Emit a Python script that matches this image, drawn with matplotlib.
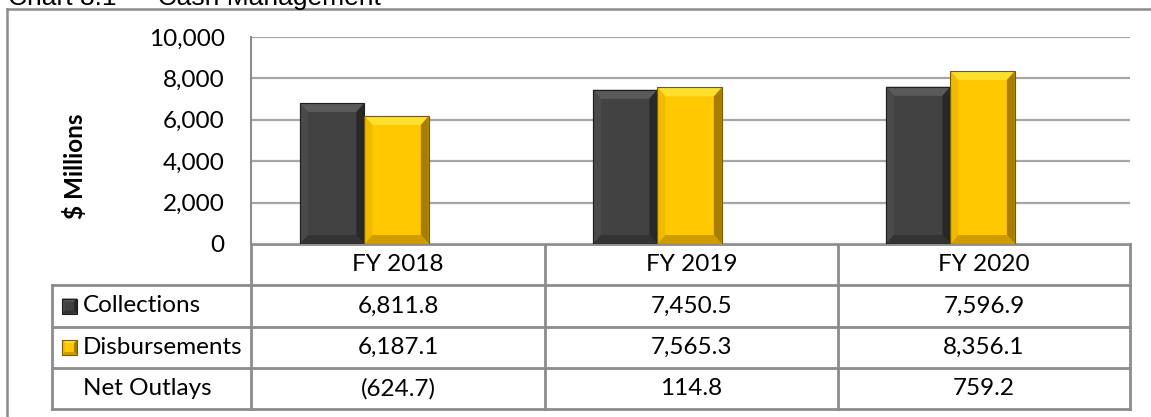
import matplotlib.pyplot as plt
from matplotlib.patches import Polygon, Rectangle
from matplotlib.lines import Line2D

W, H = 1151, 417

years = ['FY 2018', 'FY 2019', 'FY 2020']
collections = [6811.8, 7450.5, 7596.9]
disbursements = [6187.1, 7565.3, 8356.1]
net_outlays = [-624.7, 114.8, 759.2]
row_labels = ['Collections', 'Disbursements', 'Net Outlays']
y_ticks = [0, 2000, 4000, 6000, 8000, 10000]

FONT = 'Lato'
FS = 17.5
GRID = '#a6a6a6'
LINE = '#8c8c8c'

# face, top, left, right, bottom, edge
DARK = ['#424242', '#5a5a5a', '#4a4a4a', '#282828', '#333333', '#1e1e1e']
GOLD = ['#ffc800', '#ffdf2e', '#f0ba00', '#a87e00', '#cf9c00', '#7a5c00']


def bevel_box(ax, x0, x1, y0, y1, bx, by, pal):
    # outer face plus four sloped facets, drawn like an Excel bevel
    xi0, xi1, yi0, yi1 = x0 + bx, x1 - bx, y0 + by, y1 - by
    ax.add_patch(Rectangle((x0, y0), x1 - x0, y1 - y0, facecolor=pal[0],
                           edgecolor='none', zorder=3))
    facets = [
        ([(x0, y1), (x1, y1), (xi1, yi1), (xi0, yi1)], pal[1]),
        ([(x0, y0), (x0, y1), (xi0, yi1), (xi0, yi0)], pal[2]),
        ([(x1, y0), (x1, y1), (xi1, yi1), (xi1, yi0)], pal[3]),
        ([(x0, y0), (x1, y0), (xi1, yi0), (xi0, yi0)], pal[4]),
    ]
    for pts, c in facets:
        ax.add_patch(Polygon(pts, closed=True, facecolor=c, edgecolor='none', zorder=4))
    ax.add_patch(Rectangle((x0, y0), x1 - x0, y1 - y0, facecolor='none',
                           edgecolor=pal[5], lw=0.8, zorder=5))


fig = plt.figure(figsize=(W / 100, H / 100), dpi=100)

# plot area in pixel terms
px_l, px_r, px_t, px_b = 251, 1130, 37, 244
ax = fig.add_axes([px_l / W, (H - px_b) / H, (px_r - px_l) / W, (px_b - px_t) / H])
ax.set_xlim(0, 3)
ax.set_ylim(0, 10000)
ax.set_yticks(y_ticks)
ax.set_yticklabels(['{:,}'.format(v) for v in y_ticks], fontfamily=FONT, fontsize=FS)
ax.tick_params(axis='y', length=0, pad=19)
ax.set_xticks([])
for s in ['top', 'right', 'bottom']:
    ax.spines[s].set_visible(False)
ax.spines['left'].set_color(LINE)
ax.spines['left'].set_linewidth(1.5)
ax.yaxis.grid(True, color=GRID, lw=1.6)
ax.set_axisbelow(True)

bar_w = 0.22
split = 0.387
bx = 8 / ((px_r - px_l) / 3)
by = 9 * 10000 / (px_b - px_t)
for i in range(len(years)):
    c = i + split
    bars = ax.bar([c - bar_w / 2, c + bar_w / 2], [collections[i], disbursements[i]],
                  width=bar_w, color='none')
    for b, pal in zip(bars, [DARK, GOLD]):
        bevel_box(ax, b.get_x(), b.get_x() + b.get_width(), 0, b.get_height(), bx, by, pal)

# overlay for table, frame and labels, in pixel coords (y measured from top)
ov = fig.add_axes([0, 0, 1, 1])
ov.set_xlim(0, W)
ov.set_ylim(H, 0)
ov.axis('off')
ov.set_zorder(-1)


def hline(y, x0, x1, c=LINE, lw=1.6):
    ov.add_line(Line2D([x0, x1], [y, y], color=c, lw=lw))


def vline(x, y0, y1, c=LINE, lw=1.6):
    ov.add_line(Line2D([x, x], [y0, y1], color=c, lw=lw))


# outer frame (only left and top fall inside the picture)
hline(8.5, 7, W, lw=1.8)
vline(7, 8.5, H, lw=1.8)

cols = [52, 251, 545, 838, 1130]
rows = [244, 285, 327, 368, 409]
hline(rows[0], cols[1], cols[-1], lw=2)
for y in rows[1:]:
    hline(y, cols[0], cols[-1], lw=2)
vline(cols[0], rows[1], rows[-1], lw=2)
for x in cols[1:]:
    vline(x, rows[0], rows[-1], lw=2)

for j, yr in enumerate(years):
    xc = (cols[j + 1] + cols[j + 2]) / 2
    ov.text(xc, (rows[0] + rows[1]) / 2, yr, ha='center', va='center',
            fontfamily=FONT, fontsize=FS)
    vals = [collections[j], disbursements[j], net_outlays[j]]
    for k, v in enumerate(vals):
        s = '{:,.1f}'.format(abs(v))
        if v < 0:
            s = '(' + s + ')'
        ov.text(xc, (rows[k + 1] + rows[k + 2]) / 2, s, ha='center', va='center',
                fontfamily=FONT, fontsize=FS)

for k, lab in enumerate(row_labels):
    yc = (rows[k + 1] + rows[k + 2]) / 2
    ov.text(83, yc, lab, ha='left', va='center', fontfamily=FONT, fontsize=FS)
    if k < 2:
        pal = [DARK, GOLD][k]
        bevel_box(ov, 62, 77, yc + 7.5, yc - 7.5, 3, -3, pal)

fig.text(75 / W, 1 - 166 / H, '$ Millions', rotation=90, ha='center', va='center',
         fontfamily=FONT, fontsize=FS, fontweight='bold')

# chart title sits mostly above the top edge, as in the source image
fig.text(8 / W, 1 - 5 / H, 'Chart 8.1 \u2014 Cash Management', ha='left', va='baseline',
         fontfamily='Liberation Sans', fontsize=19)

fig.savefig('out.png', dpi=100)
